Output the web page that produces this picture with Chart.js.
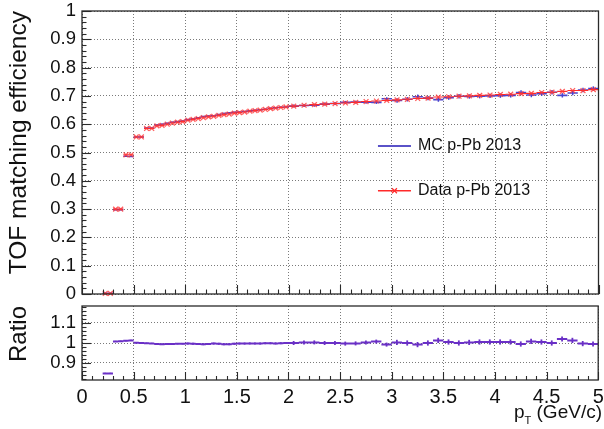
<!DOCTYPE html>
<html><head><meta charset="utf-8">
<script src="https://cdn.jsdelivr.net/npm/chart.js@4"></script>
<style>
html,body{margin:0;padding:0;background:#fff;}
#wrap{position:relative;width:604px;height:429px;overflow:hidden;background:#fff;}
#c1{position:absolute;left:0;top:0;}
#c2{position:absolute;left:0;top:300px;}
#xt{position:absolute;right:2px;top:401px;font:19px "Liberation Sans",Arial,sans-serif;color:#111;white-space:nowrap;}
#xt sub{font-size:11px;vertical-align:-6px;}
</style></head><body>
<div id="wrap">
<canvas id="c1" width="604" height="300"></canvas>
<canvas id="c2" width="604" height="129"></canvas>
<div id="xt">p<sub>T</sub> (GeV/c)</div>
</div>
<script>
// ---- data ----
const ptEdges = [0.2,0.25,0.3,0.35,0.4,0.45,0.5,0.55,0.6,0.65,0.7,0.75,0.8,0.85,0.9,0.95,
  1.0,1.05,1.1,1.15,1.2,1.25,1.3,1.35,1.4,1.45,1.5,1.55,1.6,1.65,1.7,1.75,1.8,1.85,1.9,1.95,
  2.0,2.1,2.2,2.3,2.4,2.5,2.6,2.7,2.8,2.9,3.0,3.1,3.2,3.3,3.4,3.5,3.6,3.7,3.8,3.9,
  4.0,4.1,4.2,4.3,4.4,4.5,4.6,4.7,4.8,4.9,5.0];
const effData = [0.002,0.002,0.300,0.300,0.492,0.492,0.555,0.555,0.585,0.585,0.594,0.596,0.600,0.604,0.607,0.609,
  0.614,0.617,0.620,0.623,0.626,0.628,0.631,0.634,0.636,0.639,0.641,0.643,0.646,0.648,0.650,0.652,0.655,0.657,0.659,0.661,
  0.664,0.667,0.669,0.671,0.673,0.675,0.677,0.680,0.682,0.684,0.686,0.688,0.691,0.692,0.696,0.697,0.699,0.700,0.702,0.703,
  0.705,0.706,0.708,0.709,0.712,0.713,0.716,0.719,0.719,0.722];
const effMC = [0.0024,0.0024,0.298,0.298,0.487,0.486,0.555,0.555,0.586,0.586,0.597,0.600,0.603,0.607,0.609,0.611,
  0.616,0.619,0.623,0.627,0.629,0.630,0.634,0.638,0.640,0.642,0.643,0.645,0.647,0.649,0.651,0.653,0.656,0.658,0.660,0.661,
  0.664,0.666,0.667,0.671,0.673,0.677,0.678,0.678,0.677,0.690,0.684,0.688,0.697,0.692,0.687,0.694,0.699,0.698,0.699,0.700,
  0.701,0.702,0.712,0.703,0.708,0.713,0.702,0.710,0.721,0.726];
const ratio = [0.848,0.848,1.008,1.009,1.011,1.013,1.001,1.000,0.999,0.998,0.995,0.994,0.995,0.995,0.996,0.996,
  0.997,0.996,0.995,0.994,0.995,0.997,0.996,0.994,0.994,0.996,0.997,0.997,0.998,0.998,0.998,0.999,0.999,0.998,0.999,1.000,
  1.000,1.002,1.003,1.000,1.000,0.997,0.998,1.003,1.007,0.992,1.003,1.000,0.992,1.000,1.013,1.005,1.000,1.003,1.005,1.005,
  1.005,1.005,0.995,1.008,1.005,1.000,1.020,1.013,0.997,0.995];
const seriesNames = ['MC p-Pb 2013','Data p-Pb 2013'];
const effTicks = [0,0.1,0.2,0.3,0.4,0.5,0.6,0.7,0.8,0.9,1];
const effTickLabels = ['0','0.1','0.2','0.3','0.4','0.5','0.6','0.7','0.8','0.9','1'];
const ratioTicks = [0.9,1,1.1];
const ratioTickLabels = ['0.9','1','1.1'];
const xTicks = [0,0.5,1,1.5,2,2.5,3,3.5,4,4.5,5];
const xTickLabels = ['0','0.5','1','1.5','2','2.5','3','3.5','4','4.5','5'];

// ---- styles ----
const FONT = '"Liberation Sans", Arial, Helvetica, sans-serif';
const MC_COL = '#4a44cf', DATA_COL = '#ff2a2a', RATIO_COL = '#6a30c6';
const GRID_COL = '#7a7a7a';

function barSegments(vals){
  const out=[];
  vals.forEach((v,i)=>{ out.push({x:ptEdges[i],y:v},{x:ptEdges[i+1],y:v},{x:ptEdges[i+1],y:null}); });
  return out;
}
function centers(vals){ return vals.map((v,i)=>({x:(ptEdges[i]+ptEdges[i+1])/2,y:v})); }

const rootFrame = {
  id:'rootFrame',
  afterDatasetsDraw(chart, args, o){
    const {ctx, chartArea:a, scales:{x,y}} = chart;
    ctx.save();
    ctx.strokeStyle = '#2a2a2a'; ctx.lineWidth = 1.1;
    const isMaj=(v,s)=>Math.abs(v/s-Math.round(v/s))<1e-6;
    for(let k=Math.ceil(y.min/o.yMinor-1e-9); k*o.yMinor<=y.max+1e-9; k++){
      const v=k*o.yMinor, py=Math.round(y.getPixelForValue(v))+0.5;
      const L = isMaj(v,o.yMajor)? o.majLen : o.minLen;
      ctx.beginPath(); ctx.moveTo(a.left,py); ctx.lineTo(a.left+L,py); ctx.stroke();
    }
    for(let k=Math.ceil(x.min/o.xMinor-1e-9); k*o.xMinor<=x.max+1e-9; k++){
      const v=k*o.xMinor, px=Math.round(x.getPixelForValue(v))+0.5;
      const L = isMaj(v,o.xMajor)? o.xMajLen : o.xMinLen;
      ctx.beginPath(); ctx.moveTo(px,a.bottom); ctx.lineTo(px,a.bottom-L); ctx.stroke();
    }
    ctx.lineWidth = 1.3;
    ctx.strokeRect(a.left, a.top, a.right-a.left, a.bottom-a.top);
    ctx.restore();
  }
};

const legendBox = {
  id:'legendBox',
  afterDatasetsDraw(chart){
    const {ctx, chartArea:a} = chart;
    const x0 = a.left + (a.right-a.left)*0.573, x1 = x0+33;
    const y0 = a.top + (a.bottom-a.top)*0.477, y1 = a.top + (a.bottom-a.top)*0.635;
    ctx.save();
    ctx.lineWidth = 2; ctx.strokeStyle = '#5a52c8';
    ctx.beginPath(); ctx.moveTo(x0,y0); ctx.lineTo(x1,y0); ctx.stroke();
    ctx.lineWidth = 1.5; ctx.strokeStyle = DATA_COL;
    ctx.beginPath(); ctx.moveTo(x0,y1); ctx.lineTo(x1,y1); ctx.stroke();
    const cx=(x0+x1)/2, r=2.5;
    ctx.lineWidth=1.2;
    ctx.beginPath(); ctx.moveTo(cx-r,y1-r); ctx.lineTo(cx+r,y1+r); ctx.moveTo(cx-r,y1+r); ctx.lineTo(cx+r,y1-r); ctx.stroke();
    ctx.fillStyle='#111'; ctx.font='16px '+FONT; ctx.textBaseline='middle';
    ctx.fillText(seriesNames[0], x1+7, y0);
    ctx.fillText(seriesNames[1], x1+7, y1);
    ctx.restore();
  }
};

function zeroPad(s){ s.paddingLeft=0; s.paddingRight=0; s.paddingTop=0; s.paddingBottom=0; }

const errRadiusTop = ctx => { const lo=ptEdges[ctx.dataIndex]; return lo>=3 ? 2.2 : (lo>=2 ? 1.5 : 0.6); };
const errRadiusRatio = ctx => { const lo=ptEdges[ctx.dataIndex]; return lo>=3 ? 2.6 : (lo>=2 ? 2 : (lo>=1 ? 1 : 0.6)); };

new Chart(document.getElementById('c1'), {
  type:'line',
  data:{datasets:[
    {label:seriesNames[0], data:barSegments(effMC), borderColor:MC_COL, borderWidth:1.6, pointRadius:0, order:3, clip:false},
    {label:seriesNames[0]+' err', data:centers(effMC), showLine:false, pointStyle:'line', rotation:90,
     pointRadius:errRadiusTop, pointBorderColor:MC_COL, pointBorderWidth:1.5, order:2, clip:false},
    {label:seriesNames[1], data:barSegments(effData), borderColor:DATA_COL, borderWidth:1.1, pointRadius:0, order:1, clip:false},
    {label:seriesNames[1]+' pts', data:centers(effData), showLine:false, pointStyle:'crossRot',
     pointRadius:3.4, pointBorderColor:'rgba(255,55,55,0.8)', pointBorderWidth:1.3, order:0, clip:false}
  ]},
  options:{
    responsive:false, animation:false, events:[],
    layout:{padding:{left:0,right:2,top:11,bottom:6}},
    plugins:{legend:{display:false}, tooltip:{enabled:false},
      rootFrame:{yMinor:0.02,yMajor:0.1,majLen:9,minLen:4.5,xMinor:0.1,xMajor:0.5,xMajLen:9,xMinLen:4.5}},
    scales:{
      x:{type:'linear', min:0, max:5,
        afterBuildTicks:s=>{ s.ticks = xTicks.map(v=>({value:v})); },
        ticks:{display:false},
        grid:{color:GRID_COL, lineWidth:1, drawTicks:false},
        border:{display:false, dash:[1,2]},
        afterFit:s=>{ s.height=0; zeroPad(s); }},
      y:{min:0, max:1,
        afterBuildTicks:s=>{ s.ticks = effTicks.map(v=>({value:v})); },
        ticks:{callback:(v,i)=>effTickLabels[i], color:'#111', font:{family:FONT,size:18.5}, padding:6},
        grid:{color:GRID_COL, lineWidth:1, drawTicks:false},
        border:{display:false, dash:[1,2]},
        title:{display:true, text:'TOF matching efficiency', color:'#111', font:{family:FONT,size:24.5}, align:'end', padding:{top:5,bottom:0}},
        afterFit:s=>{ s.width=82; zeroPad(s); }}
    }
  },
  plugins:[rootFrame, legendBox]
});

new Chart(document.getElementById('c2'), {
  type:'line',
  data:{datasets:[
    {label:'Ratio', data:barSegments(ratio), borderColor:RATIO_COL, borderWidth:2, pointRadius:0, order:1, clip:false},
    {label:'Ratio err', data:centers(ratio), showLine:false, pointStyle:'line', rotation:90,
     pointRadius:errRadiusRatio, pointBorderColor:RATIO_COL, pointBorderWidth:1.8, order:0, clip:false}
  ]},
  options:{
    responsive:false, animation:false, events:[],
    layout:{padding:{left:0,right:2,top:6,bottom:0}},
    plugins:{legend:{display:false}, tooltip:{enabled:false},
      rootFrame:{yMinor:0.02,yMajor:0.1,majLen:9,minLen:4.5,xMinor:0.1,xMajor:0.5,xMajLen:8,xMinLen:4}},
    scales:{
      x:{type:'linear', min:0, max:5,
        afterBuildTicks:s=>{ s.ticks = xTicks.map(v=>({value:v})); },
        ticks:{callback:(v,i)=>xTickLabels[i], color:'#111', font:{family:FONT,size:20}, padding:5, maxRotation:0, autoSkip:false},
        grid:{color:GRID_COL, lineWidth:1, drawTicks:false},
        border:{display:false, dash:[1,2]},
        afterFit:s=>{ s.height=49; zeroPad(s); }},
      y:{min:0.815, max:1.185,
        afterBuildTicks:s=>{ s.ticks = ratioTicks.map(v=>({value:v})); },
        ticks:{callback:(v,i)=>ratioTickLabels[i], color:'#111', font:{family:FONT,size:18.5}, padding:6},
        grid:{color:GRID_COL, lineWidth:1, drawTicks:false},
        border:{display:false, dash:[1,2]},
        title:{display:true, text:'Ratio', color:'#111', font:{family:FONT,size:24}, align:'end', padding:{top:5,bottom:0}},
        afterFit:s=>{ s.width=82; zeroPad(s); }}
    }
  },
  plugins:[rootFrame]
});
</script>
</body></html>
